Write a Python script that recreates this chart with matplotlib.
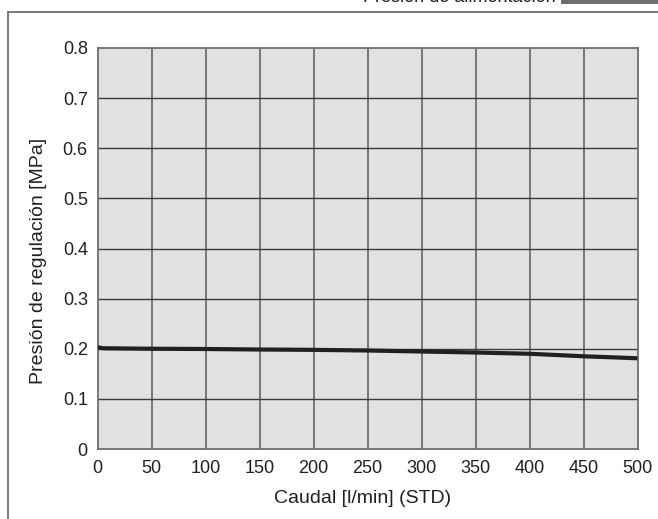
import matplotlib.pyplot as plt
from matplotlib.patches import Rectangle
from matplotlib.lines import Line2D

plt.rcParams['font.family'] = ['Liberation Sans', 'DejaVu Sans']

# regulated pressure vs flow
flow = [0, 5, 50, 100, 150, 200, 250, 300, 350, 400, 450, 500]
pressure = [0.203, 0.201, 0.200, 0.1995, 0.1985, 0.1978, 0.1965, 0.1945, 0.1925, 0.190, 0.185, 0.181]

x_ticks = [0, 50, 100, 150, 200, 250, 300, 350, 400, 450, 500]
y_ticks = [0, 0.1, 0.2, 0.3, 0.4, 0.5, 0.6, 0.7, 0.8]
y_labels = ['0', '0.1', '0.2', '0.3', '0.4', '0.5', '0.6', '0.7', '0.8']

fig = plt.figure(figsize=(6.58, 5.19), dpi=100)
W, H = 658, 519
ax = fig.add_axes([97.5 / W, 1 - 449 / H, 540 / W, 401 / H])
ax.set_facecolor('#e0e1e3')

ax.plot(flow, pressure, color='#231f20', lw=3.0, solid_capstyle='butt', zorder=3)

ax.set_xlim(0, 500)
ax.set_ylim(0, 0.8)
ax.set_xticks(x_ticks)
ax.set_yticks(y_ticks)
ax.set_yticklabels(y_labels)
ax.tick_params(length=0, labelsize=13, colors='#231f20')
ax.tick_params(axis='x', pad=8)
ax.tick_params(axis='y', pad=7)
for v in x_ticks[1:-1]:
    ax.axvline(v, color='#6d6e70', lw=1.3, zorder=1)
for v in y_ticks[1:-1]:
    ax.axhline(v, color='#3a3a3c', lw=1.0, zorder=1)
for s in ax.spines.values():
    s.set_color('#6d6e70')
    s.set_linewidth(1.3)

ax.set_xlabel('Caudal [l/min] (STD)', fontsize=14, color='#231f20')
ax.set_ylabel('Presión de regulación [MPa]', fontsize=14, color='#231f20')
ax.xaxis.set_label_coords(0.49, -41 / 401)
ax.yaxis.set_label_coords(-50 / 540, 0.47)

# outer frame and header strip
fig.add_artist(Line2D([8 / W, 8 / W], [0, 1 - 12 / H], transform=fig.transFigure,
                      color='#6d6e70', lw=1.3))
fig.add_artist(Line2D([8 / W, 1], [1 - 12 / H, 1 - 12 / H], transform=fig.transFigure,
                      color='#6d6e70', lw=1.3))
fig.add_artist(Rectangle((561 / W, 1 - 4 / H), 97 / W, 4 / H, transform=fig.transFigure,
                         facecolor='#6d6e70', edgecolor='none'))
fig.text(556 / W, 1 + 2 / H, 'Presión de alimentación', ha='right', va='center',
         fontsize=13, color='#231f20')

fig.savefig('out.png', dpi=100)
